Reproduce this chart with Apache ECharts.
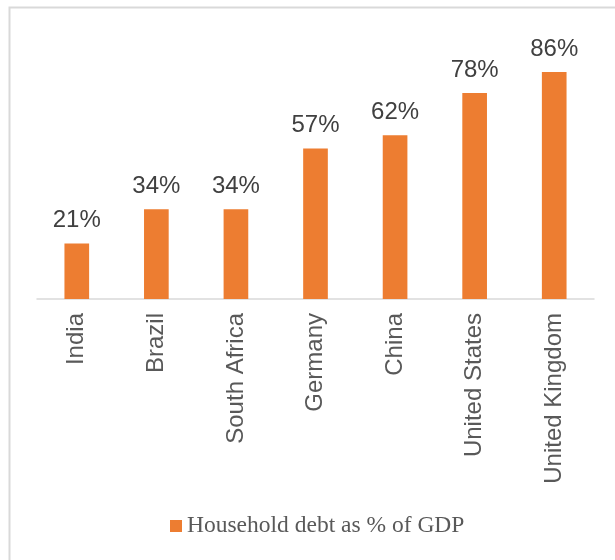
<!DOCTYPE html>
<html>
<head>
<meta charset="utf-8">
<script src="https://cdn.jsdelivr.net/npm/echarts@6/dist/echarts.min.js"></script>
<style>html,body{margin:0;padding:0;background:#fff;}#c{width:615px;height:560px;}</style>
</head>
<body>
<div id="c"></div>
<script>
const categories = ['India', 'Brazil', 'South Africa', 'Germany', 'China', 'United States', 'United Kingdom'];
const values = [21, 34, 34, 57, 62, 78, 86];
const seriesName = 'Household debt as % of GDP';

const chart = echarts.init(document.getElementById('c'), null, {renderer: 'canvas'});
chart.setOption({
  animation: false,
  backgroundColor: '#fff',
  graphic: [{
    type: 'rect', left: 7, top: 5, silent: true,
    shape: {width: 640, height: 600},
    style: {fill: 'none', stroke: '#d9d9d9', lineWidth: 2}
  }],
  grid: {left: 37, right: 21, top: 35, bottom: 261, containLabel: false},
  legend: {
    bottom: 17, left: 165,
    itemWidth: 12, itemHeight: 12, itemGap: 10,
    icon: 'rect',
    textStyle: {fontFamily: 'Liberation Serif', fontSize: 23.5, color: '#595959'},
    data: [seriesName]
  },
  xAxis: {
    type: 'category', data: categories,
    axisLine: {lineStyle: {color: '#d9d9d9', width: 1.5}},
    axisTick: {show: false},
    axisLabel: {rotate: 90, margin: 14, fontFamily: 'Liberation Sans', fontSize: 24, color: '#595959', interval: 0}
  },
  yAxis: {type: 'value', min: 0, max: 100, show: false, splitLine: {show: false}},
  series: [{
    name: seriesName, type: 'bar', data: values, barWidth: '31%',
    itemStyle: {color: '#ED7D31'},
    label: {show: true, position: 'top', distance: 11, formatter: '{c}%', fontFamily: 'Liberation Sans', fontSize: 24, color: '#404040'}
  }]
});
</script>
</body>
</html>
